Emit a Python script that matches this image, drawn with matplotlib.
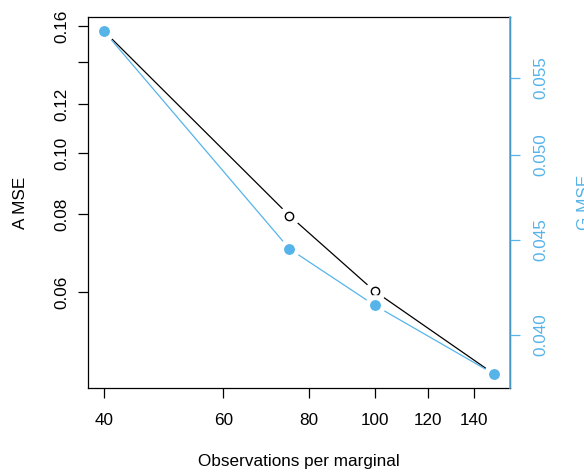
import matplotlib
matplotlib.use('Agg')
import matplotlib.pyplot as plt
from matplotlib.ticker import FixedLocator, FixedFormatter, NullLocator

# values
n_obs = [40, 75, 100, 150]
a_mse = [0.1572, 0.0795, 0.0602, 0.0443]
g_mse = [0.0583, 0.0445, 0.0415, 0.0381]

x_ticks = [40, 60, 80, 100, 120, 140]
a_ticks = [0.06, 0.08, 0.10, 0.12, 0.14, 0.16]
a_tick_labels = ['0.06', '0.08', '0.10', '0.12', '', '0.16']
g_ticks = [0.040, 0.045, 0.050, 0.055]
g_tick_labels = ['0.040', '0.045', '0.050', '0.055']

blue = '#56B4E9'
fs = 12.3
plt.rcParams['font.family'] = ['Liberation Sans', 'DejaVu Sans']

fig = plt.figure(figsize=(5.84, 4.73), dpi=100)
ax = fig.add_axes([88 / 584, 1 - 388 / 473, 422 / 584, 371 / 473])
ax2 = ax.twinx()

for a in (ax, ax2):
    a.set_xscale('log')
    a.set_yscale('log')
    a.margins(0.04)

# "type b" look: line, white gap around each point, then the point itself
ax.plot(n_obs, a_mse, color='black', lw=0.9, zorder=2)
ax.plot(n_obs, a_mse, 'o', ms=14, color='white', zorder=3)
ax.plot(n_obs, a_mse, 'o', ms=6, mfc='white', mec='black', mew=1.0, zorder=4)

ax2.plot(n_obs, g_mse, color=blue, lw=0.9, zorder=2)
ax2.plot(n_obs, g_mse, 'o', ms=14, color='white', zorder=3)
ax2.plot(n_obs, g_mse, 'o', ms=6.8, color=blue, zorder=4)

ax.xaxis.set_major_locator(FixedLocator(x_ticks))
ax.xaxis.set_major_formatter(FixedFormatter([str(t) for t in x_ticks]))
ax.xaxis.set_minor_locator(NullLocator())
ax.yaxis.set_major_locator(FixedLocator(a_ticks))
ax.yaxis.set_major_formatter(FixedFormatter(a_tick_labels))
ax.yaxis.set_minor_locator(NullLocator())
ax2.yaxis.set_major_locator(FixedLocator(g_ticks))
ax2.yaxis.set_major_formatter(FixedFormatter(g_tick_labels))
ax2.yaxis.set_minor_locator(NullLocator())

ax.tick_params(axis='x', length=7.2, width=0.9, pad=11, labelsize=fs)
ax.tick_params(axis='y', length=7.2, width=0.9, pad=6, labelsize=fs, labelrotation=90)
for lab in ax.get_yticklabels():
    lab.set_va('center')
ax2.tick_params(axis='y', length=7.2, width=0.9, pad=9.5, labelsize=fs, labelrotation=90,
                color=blue, labelcolor=blue)
for lab in ax2.get_yticklabels():
    lab.set_va('center')

for s in ax.spines.values():
    s.set_linewidth(0.9)
for s in ('left', 'top', 'bottom'):
    ax2.spines[s].set_visible(False)
ax2.spines['right'].set_color(blue)
ax2.spines['right'].set_linewidth(1.2)

ax.set_xlabel('Observations per marginal', fontsize=fs)
ax.xaxis.set_label_coords(0.5, -0.178)
ax.set_ylabel('A MSE', fontsize=fs)
ax.yaxis.set_label_coords(-0.142, 0.5)
ax2.set_ylabel('G MSE', fontsize=fs, color=blue, rotation=90)
ax2.yaxis.set_label_coords(1.158, 0.5)

fig.savefig('out.png', dpi=100)
